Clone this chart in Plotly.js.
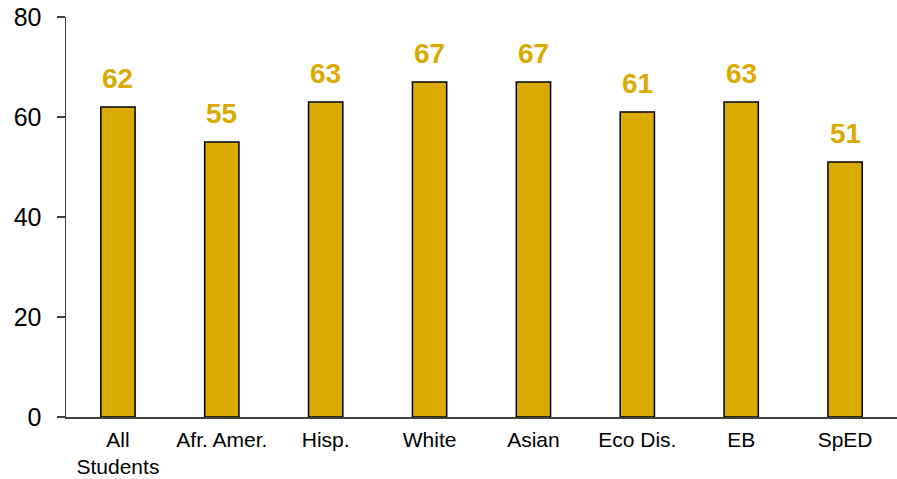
<!DOCTYPE html>
<html><head><meta charset="utf-8">
<script src="https://cdn.plot.ly/plotly-3.0.1.min.js"></script>
<style>html,body{margin:0;padding:0;background:#fff}#c{width:897px;height:479px}</style>
</head><body><div id="c"></div>
<script>
const categories = ["All<br>Students", "Afr. Amer.", "Hisp.", "White", "Asian", "Eco Dis.", "EB", "SpED"];
const values = [62, 55, 63, 67, 67, 61, 63, 51];
const yTicks = [0, 20, 40, 60, 80];

const gold = "#DAAA00";
const annotations = categories.map((c, i) => ({
  x: c, y: values[i], xref: "x", yref: "y",
  text: "<b>" + values[i] + "</b>", showarrow: false,
  yanchor: "bottom", yshift: 11,
  font: {family: "Liberation Sans, Arial, sans-serif", size: 28, color: gold}
}));

Plotly.newPlot("c", [{
  type: "bar", x: categories, y: values,
  marker: {color: gold, line: {color: "#000", width: 1.5}},
  hoverinfo: "none"
}], {
  width: 897, height: 479,
  margin: {l: 66, r: 0, t: 17, b: 62},
  paper_bgcolor: "#fff", plot_bgcolor: "#fff",
  bargap: 0.67,
  showlegend: false,
  font: {family: "Liberation Sans, Arial, sans-serif", color: "#000"},
  xaxis: {
    type: "category", showline: true, linecolor: "#404040", linewidth: 1.5,
    ticks: "", tickfont: {size: 21}, showgrid: false, zeroline: false, ticklabelstandoff: 3
  },
  yaxis: {
    range: [0, 80], tickvals: yTicks, showline: true, linecolor: "#404040", linewidth: 1.5,
    ticks: "outside", ticklen: 8, tickcolor: "#404040", tickwidth: 1.2,
    tickfont: {size: 25}, showgrid: false, zeroline: false, ticklabelstandoff: 10
  },
  annotations: annotations
}, {staticPlot: true});
</script></body></html>
